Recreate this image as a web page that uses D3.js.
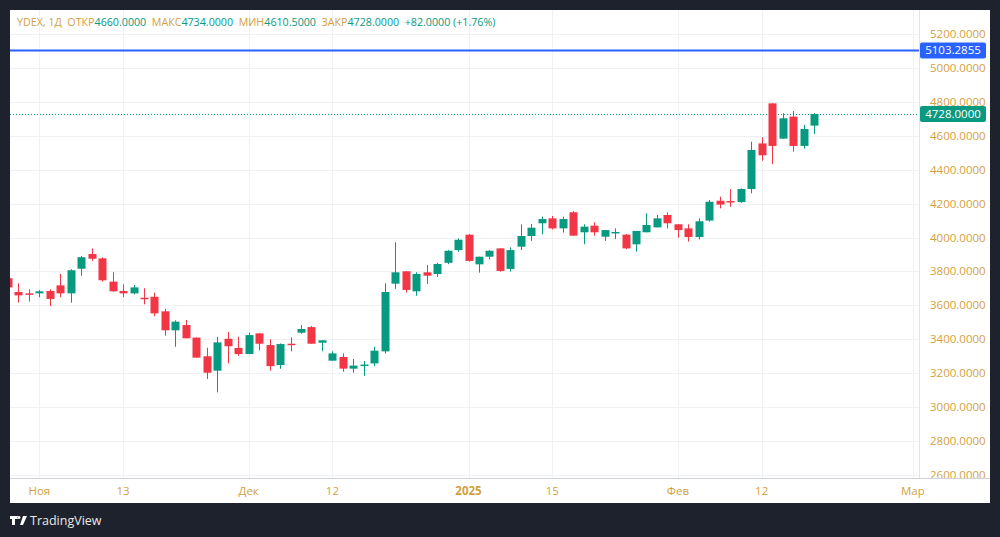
<!DOCTYPE html>
<html><head><meta charset="utf-8">
<script src="https://cdn.jsdelivr.net/npm/d3@7/dist/d3.min.js"></script>
<style>body{margin:0;background:#1e222d;}svg{display:block;font-family:"Open Sans","DejaVu Sans",sans-serif;}</style>
</head><body><svg id="c" width="1000" height="537"></svg>
<script>
const opens  = [3760,3679,3671,3671,3685,3718,3671,3816,3903,3877,3740,3685,3671,3645,3651,3565,3453,3484,3410,3300,3215,3403,3349,3313,3435,3366,3248,3374,3439,3472,3380,3274,3296,3227,3243,3258,3329,3728,3801,3683,3795,3785,3851,3926,4017,3842,3887,3936,3815,3946,4009,4084,4113,4054,4149,4031,4070,4005,4029,4017,3960,4031,4060,4133,4078,4054,4003,4100,4217,4215,4209,4286,4555,4791,4583,4713,4540,4660];
const highs  = [3765,3730,3695,3690,3695,3785,3813,3891,3936,3883,3795,3724,3720,3701,3675,3580,3512,3514,3410,3350,3415,3443,3415,3439,3435,3400,3376,3412,3484,3478,3394,3329,3317,3284,3272,3356,3730,3972,3801,3795,3838,3851,3926,3995,4021,3887,3926,3936,3942,4078,4080,4123,4127,4123,4156,4078,4090,4044,4054,4021,4039,4143,4133,4149,4078,4078,4113,4221,4241,4286,4290,4565,4591,4791,4733,4746,4664,4734];
const lows   = [3700,3616,3622,3648,3596,3648,3616,3775,3863,3740,3680,3648,3665,3606,3537,3421,3356,3406,3290,3166,3087,3258,3303,3313,3335,3215,3226,3329,3433,3374,3329,3274,3209,3203,3185,3242,3317,3697,3675,3657,3726,3768,3843,3916,3858,3793,3871,3799,3799,3926,3980,4019,4048,4029,4011,3960,4011,3980,3991,3932,3917,4031,4060,4054,3999,3976,3989,4094,4172,4182,4205,4261,4453,4434,4583,4506,4524,4610.5];
const closes = [3706,3659,3667,3683,3638,3671,3807,3884,3875,3748,3683,3671,3706,3639,3553,3453,3504,3406,3292,3203,3382,3359,3313,3425,3374,3242,3372,3370,3461,3374,3394,3317,3227,3245,3251,3333,3679,3795,3691,3785,3775,3844,3922,3987,3862,3887,3922,3803,3926,4009,4058,4109,4054,4109,4011,4064,4031,4044,4033,3936,4039,4074,4113,4084,4044,4003,4096,4211,4194,4209,4286,4516,4485,4540,4703,4540,4640,4728];
const priceTicks = [5200,5000,4800,4600,4400,4200,4000,3800,3600,3400,3200,3000,2800,2600];
const timeTickIdx = [3,11,23,31,44,52,64,72,86.45];
const timeTickLabels = ["Ноя","13","Дек","12","2025","15","Фев","12","Мар"];
const timeTickBold = [false,false,false,false,true,false,false,false,false];
const alertPrice = 5103.2855;
const lastPrice = 4728;

const svg = d3.select("#c");
const GOLD="#d39f3f", GREEN="#089981", RED="#f23645";
const L=10,R=919,T=10,B=478;
svg.append("rect").attr("x",10).attr("y",10).attr("width",980).attr("height",493).attr("fill","#fff");
const x = d3.scaleLinear().domain([0,77]).range([7.9,814]);
const y = d3.scaleLinear().domain([2600,5200]).range([475,34]);
svg.append("clipPath").attr("id","pc").append("rect").attr("x",L).attr("y",T).attr("width",R-L).attr("height",B-T);
const plot = svg.append("g").attr("clip-path","url(#pc)");
plot.selectAll(".hg").data(priceTicks).join("line").attr("x1",L).attr("x2",R)
 .attr("y1",d=>Math.round(y(d))+0.5).attr("y2",d=>Math.round(y(d))+0.5).attr("stroke","#f0f1f3");
plot.selectAll(".vg").data(timeTickIdx).join("line").attr("y1",T).attr("y2",B)
 .attr("x1",d=>Math.round(x(d))+0.5).attr("x2",d=>Math.round(x(d))+0.5).attr("stroke","#f0f1f3");
plot.append("line").attr("x1",L).attr("x2",R).attr("y1",y(alertPrice)).attr("y2",y(alertPrice)).attr("stroke","#2962ff").attr("stroke-width",2);
plot.append("line").attr("x1",L).attr("x2",R).attr("y1",Math.round(y(lastPrice))+0.5).attr("y2",Math.round(y(lastPrice))+0.5)
 .attr("stroke",GREEN).attr("stroke-dasharray","1,2");
const idx = d3.range(opens.length);
const col = i => closes[i]>=opens[i]?GREEN:RED;
plot.selectAll(".w").data(idx).join("line").attr("x1",i=>Math.round(x(i))+0.5).attr("x2",i=>Math.round(x(i))+0.5)
 .attr("y1",i=>y(highs[i])).attr("y2",i=>y(lows[i])).attr("stroke",col).attr("stroke-width",1);
plot.selectAll(".b").data(idx).join("rect").attr("x",i=>Math.round(x(i))-3.5).attr("width",8)
 .attr("y",i=>y(Math.max(opens[i],closes[i])))
 .attr("height",i=>Math.max(1.5,Math.abs(y(opens[i])-y(closes[i])))).attr("fill",col);
svg.append("line").attr("x1",R+0.5).attr("x2",R+0.5).attr("y1",T).attr("y2",B).attr("stroke","#e0e3eb");
svg.append("line").attr("x1",L).attr("x2",990).attr("y1",B+0.5).attr("y2",B+0.5).attr("stroke","#d1d4dc");
svg.append("clipPath").attr("id","yc").append("rect").attr("x",R+1).attr("y",T).attr("width",70).attr("height",B-T);
const ya = svg.append("g").attr("clip-path","url(#yc)");
ya.selectAll("text").data(priceTicks).join("text").attr("x",930).attr("y",d=>y(d)+4).attr("fill",GOLD)
 .attr("font-size",11.5).text(d=>d3.format(".4f")(d));
function tag(v,c,txt){
  svg.append("rect").attr("x",R+1).attr("y",y(v)-8).attr("width",66).attr("height",16).attr("rx",2).attr("fill",c);
  svg.append("text").attr("x",R+34).attr("y",y(v)+4).attr("text-anchor","middle").attr("fill","#fff").attr("font-size",11.5).text(txt);
}
tag(alertPrice,"#2962ff",d3.format(".4f")(alertPrice));
tag(lastPrice,GREEN,d3.format(".4f")(lastPrice));
svg.append("clipPath").attr("id","xc").append("rect").attr("x",L).attr("y",B+1).attr("width",R-L+5).attr("height",24);
const xa = svg.append("g").attr("clip-path","url(#xc)");
xa.selectAll("text").data(timeTickIdx).join("text").attr("x",d=>x(d)).attr("y",495).attr("text-anchor","middle")
 .attr("fill",GOLD).attr("font-size",11.5).attr("font-weight",(d,i)=>timeTickBold[i]?"bold":"normal").text((d,i)=>timeTickLabels[i]);
const h = svg.append("text").attr("x",17).attr("y",26).attr("font-size",10.7);
const parts=[["YDEX, 1Д  ",GOLD],["ОТКР",GOLD],["4660.0000  ",GREEN],["МАКС",GOLD],["4734.0000  ",GREEN],["МИН",GOLD],["4610.5000  ",GREEN],["ЗАКР",GOLD],["4728.0000  ",GREEN],["+82.0000 (+1.76%)",GREEN]];
parts.forEach(p=>h.append("tspan").attr("fill",p[1]).style("white-space","pre").text(p[0]));
const g = svg.append("g").attr("fill","#fff");
g.append("path").attr("d","M10 516h8v3h-3v6h-3v-6h-2z M19 516a1.5 1.5 0 1 0 0.01 0z M23 516h4l-4 9h-3z");
g.append("text").attr("x",30).attr("y",525).attr("font-size",12.5).attr("fill","#e8e8e8").text("TradingView");
</script></body></html>
